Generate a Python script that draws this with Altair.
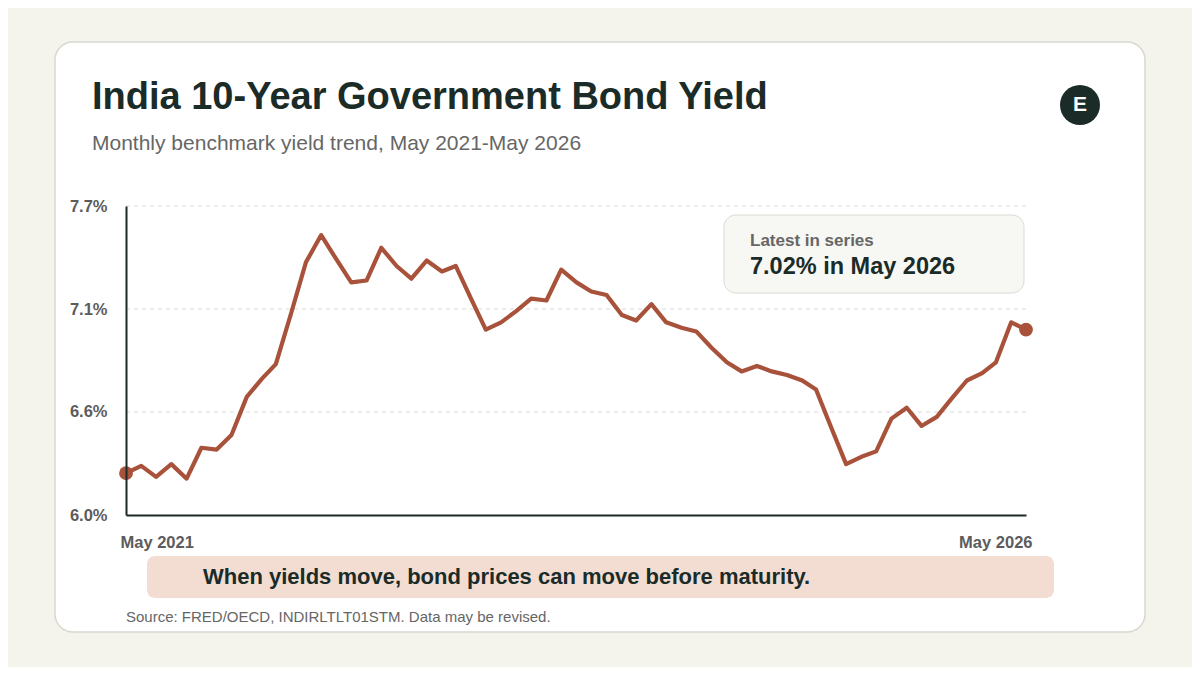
import altair as alt
import pandas as pd

# ---- data ----
months = pd.date_range("2021-05-01", "2026-05-01", freq="MS").strftime("%Y-%m-%d").tolist()
yields = [6.23, 6.27, 6.21, 6.28, 6.20, 6.37, 6.36, 6.44, 6.65, 6.75,
          6.83, 7.11, 7.39, 7.54, 7.41, 7.28, 7.29, 7.47, 7.37, 7.30,
          7.40, 7.34, 7.37, 7.19, 7.02, 7.06, 7.12, 7.19, 7.18, 7.35,
          7.28, 7.23, 7.21, 7.10, 7.07, 7.16, 7.06, 7.03, 7.01, 6.92,
          6.84, 6.79, 6.82, 6.79, 6.77, 6.74, 6.69, 6.48, 6.28, 6.32,
          6.35, 6.53, 6.59, 6.49, 6.54, 6.64, 6.74, 6.78, 6.84, 7.06,
          7.02]
y_ticks = [6.0, 6.5667, 7.1333, 7.7]
grid_ticks = [6.5667, 7.1333, 7.7]

title = "India 10-Year Government Bond Yield"
subtitle = "Monthly benchmark yield trend, May 2021-May 2026"
latest_head = "Latest in series"
latest_text = f"{yields[-1]:.2f}% in May 2026"
note = "When yields move, bond prices can move before maturity."
source = "Source: FRED/OECD, INDIRLTLT01STM. Data may be revised."

df = pd.DataFrame({"date": months, "yield": yields})
ends = df.iloc[[0, -1]]
grid_df = pd.DataFrame({"yield": grid_ticks})

FONT = "Liberation Sans"
DARK = "#1a2b28"
LINE = "#a9523b"
GRAY = "#5c5c5c"

one = pd.DataFrame({"k": [0]})


def box(x1, x2, y1, y2, fill, stroke=None, r=10, sw=1.0):
    kw = dict(fill=fill, cornerRadius=r)
    if stroke:
        kw.update(stroke=stroke, strokeWidth=sw)
    return alt.Chart(one).mark_rect(**kw).encode(
        x=alt.value(x1), x2=alt.value(x2), y=alt.value(y1), y2=alt.value(y2))


def txt(s, x, y, size, weight="normal", color=DARK, align="left", baseline="alphabetic"):
    return alt.Chart(one).mark_text(
        text=s, font=FONT, fontSize=size, fontWeight=weight, color=color,
        align=align, baseline=baseline).encode(x=alt.value(x), y=alt.value(y))


card = box(-71, 1019, -164, 426, "#ffffff", "#d8d8d0", r=18, sw=1.5)

xscale = alt.Scale(type="utc", domain=[months[0], months[-1]])
yscale = alt.Scale(domain=[6.0, 7.7], nice=False, zero=False)

xenc = alt.X("date:T", title=None, scale=xscale,
             axis=alt.Axis(values=[alt.DateTime(year=2021, month=5, date=1, utc=True),
                                   alt.DateTime(year=2026, month=5, date=1, utc=True)],
                           format="%b %Y", labelFlush=True, labelFlushOffset=6,
                           grid=False, ticks=False, domainColor=DARK, domainWidth=2,
                           labelFont=FONT, labelFontSize=16.5, labelFontWeight="bold",
                           labelColor=GRAY, labelPadding=19, zindex=1))
yenc = alt.Y("yield:Q", title=None, scale=yscale,
             axis=alt.Axis(values=y_ticks, labelExpr="format(datum.value, '.1f') + '%'",
                           grid=False, ticks=False, domainColor=DARK, domainWidth=2,
                           labelFont=FONT, labelFontSize=16.5, labelFontWeight="bold",
                           labelColor=GRAY, labelPadding=19, zindex=1))

grid = alt.Chart(grid_df).mark_rule(color="#d9d9d9", strokeWidth=1, strokeDash=[4, 4]).encode(
    y=alt.Y("yield:Q", scale=yscale))
line = alt.Chart(df).mark_line(color=LINE, strokeWidth=4.2, strokeJoin="round").encode(x=xenc, y=yenc)
dots = alt.Chart(ends).mark_point(filled=True, color=LINE, size=190, opacity=1).encode(
    x="date:T", y="yield:Q")

layers = [
    card,
    grid,
    line,
    dots,
    txt(title, -34, -97, 38, "bold"),
    txt(subtitle, -34, -56, 21, color="#666666"),
    alt.Chart(one).mark_point(filled=True, color=DARK, size=1600, opacity=1).encode(
        x=alt.value(954), y=alt.value(-101)),
    txt("E", 954, -101, 21, "bold", color="#ffffff", align="center", baseline="middle"),
    box(598, 898, 9, 87, "#f7f7f4", "#dadad5", r=12),
    txt(latest_head, 624, 35, 17, "bold", color="#666666", baseline="middle"),
    txt(latest_text, 624, 61, 23.5, "bold", baseline="middle"),
    box(21, 928, 350, 392, "#f3ddd3", r=8),
    txt(note, 77, 371, 22, "bold", baseline="middle"),
    txt(source, 0, 411, 15, color="#666666", baseline="middle"),
]

chart = alt.layer(*layers).properties(
    width=900, height=309,
    autosize=alt.AutoSizeParams(type="none"),
    padding={"left": 118, "top": 198, "right": 166, "bottom": 152},
    background="#f4f3ec",
).configure_view(strokeWidth=0)

chart.save("out.html", embed_options={"renderer": "svg", "actions": False})
